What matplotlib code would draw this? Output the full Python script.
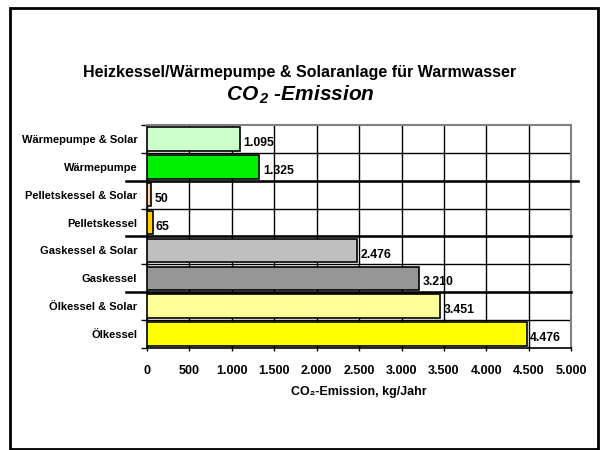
import matplotlib
matplotlib.use("Agg")
import matplotlib.pyplot as plt
from matplotlib.patches import Rectangle

plt.rcParams['font.family'] = ['Liberation Sans', 'DejaVu Sans']
plt.rcParams['mathtext.fontset'] = 'custom'
plt.rcParams['mathtext.it'] = 'Liberation Sans:italic:bold'
plt.rcParams['mathtext.rm'] = 'Liberation Sans:italic:bold'

# Daten (von oben nach unten)
kategorien = ["Wärmepumpe & Solar", "Wärmepumpe", "Pelletskessel & Solar", "Pelletskessel",
              "Gaskessel & Solar", "Gaskessel", "Ölkessel & Solar", "Ölkessel"]
werte = [1095, 1325, 50, 65, 2476, 3210, 3451, 4476]
farben = ["#CCFFCC", "#00EE00", "#FFCC99", "#FFCC00",
          "#C0C0C0", "#969696", "#FFFF99", "#FFFF00"]
x_ticks = [0, 500, 1000, 1500, 2000, 2500, 3000, 3500, 4000, 4500, 5000]
# Trennlinien zwischen Gruppen (Index der Grenze von oben)
trenner = [2, 4, 6]

fig = plt.figure(figsize=(6, 4.5), dpi=100)
ax = fig.add_axes([0.245, 0.227, 0.707, 0.495])

n = len(kategorien)
pos = list(range(n))
ax.barh(pos, werte, height=0.84, color=farben, edgecolor="black", linewidth=1.2, zorder=3)
ax.set_ylim(n - 0.5, -0.5)
ax.set_xlim(0, 5000)

for p, v in zip(pos, werte):
    txt = f"{v:,}".replace(",", ".")
    ax.annotate(txt, (v, p), xytext=(2.5, -3), textcoords="offset points",
                ha="left", va="center", fontsize=8.8, fontweight="bold", zorder=4)

# Gitter
ax.set_xticks(x_ticks)
ax.set_xticklabels([f"{t:,}".replace(",", ".") for t in x_ticks], fontsize=9, fontweight="bold")
ax.set_yticks(pos)
ax.set_yticklabels(kategorien, fontsize=8, fontweight="bold")
ax.tick_params(axis="y", length=0, pad=7)
ax.set_yticks([i - 0.5 for i in range(n + 1)], minor=True)
ax.tick_params(axis="y", which="minor", length=4, width=1, direction="out")
ax.tick_params(axis="x", length=4, width=1, direction="inout", pad=10.5)
ax.grid(axis="x", color="black", linewidth=1, zorder=0)
for b in range(1, n):
    ax.axhline(b - 0.5, color="black", linewidth=1, zorder=1)

# dicke Trennlinien
for k, b in enumerate(trenner):
    x1 = 1.015 if k == 0 else 1.0
    ax.plot([-0.05, x1], [b - 0.5, b - 0.5], transform=ax.get_yaxis_transform(),
            color="black", linewidth=1.8, clip_on=False, zorder=5)

for s in ["top", "right"]:
    ax.spines[s].set_color("#808080")
    ax.spines[s].set_linewidth(1.5)
for s in ["left", "bottom"]:
    ax.spines[s].set_linewidth(1.2)

ax.set_xlabel("CO₂-Emission, kg/Jahr", fontsize=9, fontweight="bold", labelpad=6)

fig.text(0.5, 0.84, "Heizkessel/Wärmepumpe & Solaranlage für Warmwasser",
         ha="center", va="center", fontsize=11.5, fontweight="bold")
fig.text(0.5, 0.79, r"$CO_{\,2}$ -Emission", ha="center", va="center",
         fontsize=15, fontweight="bold", style="italic")

# Rahmen
fig.patches.append(Rectangle((10 / 600, 1 / 450), 588 / 600, 441 / 450, transform=fig.transFigure,
                             fill=False, edgecolor="black", linewidth=2))

fig.savefig("out.png", dpi=100)
